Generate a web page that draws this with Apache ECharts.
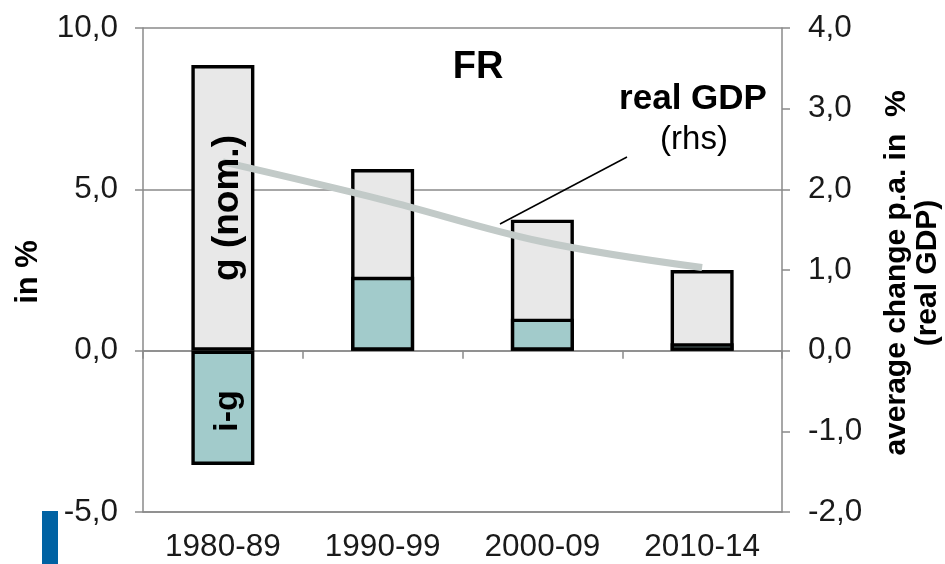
<!DOCTYPE html>
<html>
<head>
<meta charset="utf-8">
<script src="https://cdn.jsdelivr.net/npm/echarts@6/dist/echarts.min.js"></script>
<style>
html,body{margin:0;padding:0;background:#fff;}
#chart{width:945px;height:564px;}
</style>
</head>
<body>
<div id="chart"></div>
<script>
const categories = ['1980-89', '1990-99', '2000-09', '2010-14'];
const gNominal = [8.85, 5.63, 4.06, 2.5];
const iMinusG = [-3.54, 2.29, 0.99, 0.23];
const realGDP = [2.34, 1.87, 1.35, 1.03];
const leftTicks = { min: -5, max: 10, interval: 5 };
const rightTicks = { min: -2, max: 4, interval: 1 };

const FONT = "'Liberation Sans', Arial, sans-serif";
const GRAY = '#8a8a8a';
const fmt = v => v.toFixed(1).replace('.', ',');

const chart = echarts.init(document.getElementById('chart'), null, { renderer: 'canvas' });

chart.setOption({
  animation: false,
  backgroundColor: '#fff',
  grid: { left: 143, right: 163, top: 28, bottom: 52, containLabel: false },
  xAxis: [
    {
      type: 'category', data: categories, position: 'bottom',
      axisLine: { show: true, onZero: false, lineStyle: { color: GRAY, width: 1.5 } },
      axisTick: { show: false },
      axisLabel: { fontFamily: FONT, fontSize: 31.5, color: '#1a1a1a', margin: 19 },
      splitLine: { show: false }
    },
    {
      type: 'category', data: categories, position: 'top',
      axisLine: { show: true, onZero: true, lineStyle: { color: GRAY, width: 1.5 } },
      axisTick: { show: true, inside: true, length: 8, lineStyle: { color: GRAY, width: 1.5 } },
      axisLabel: { show: false },
      splitLine: { show: false }
    }
  ],
  yAxis: [
    {
      type: 'value', min: leftTicks.min, max: leftTicks.max, interval: leftTicks.interval, position: 'left',
      axisLine: { show: true, lineStyle: { color: GRAY, width: 1.5 } },
      axisTick: { show: true, length: 8, lineStyle: { color: GRAY, width: 1.5 } },
      axisLabel: { fontFamily: FONT, fontSize: 31.5, color: '#1a1a1a', margin: 25, formatter: fmt },
      splitLine: { show: true, lineStyle: { color: GRAY, width: 1.5 } }
    },
    {
      type: 'value', min: rightTicks.min, max: rightTicks.max, interval: rightTicks.interval, position: 'right',
      axisLine: { show: true, lineStyle: { color: GRAY, width: 1.5 } },
      axisTick: { show: true, length: 8, lineStyle: { color: GRAY, width: 1.5 } },
      axisLabel: { fontFamily: FONT, fontSize: 31.5, color: '#1a1a1a', margin: 26, formatter: fmt },
      splitLine: { show: false }
    }
  ],
  series: [
    {
      name: 'g (nom.)', type: 'bar', data: gNominal, xAxisIndex: 0, yAxisIndex: 0,
      barWidth: 63, barGap: '-100%', z: 2,
      itemStyle: { color: '#e8e8e8', borderColor: '#000', borderWidth: 3.4 }
    },
    {
      name: 'i-g', type: 'bar', data: iMinusG, xAxisIndex: 0, yAxisIndex: 0,
      barWidth: 63, barGap: '-100%', z: 3,
      itemStyle: { color: '#a2cbcb', borderColor: '#000', borderWidth: 3.4 }
    },
    {
      name: 'real GDP', type: 'line', data: realGDP, xAxisIndex: 0, yAxisIndex: 1,
      smooth: 0.35, showSymbol: false, symbol: 'none', z: 4,
      lineStyle: { color: '#c2cac8', width: 7 }
    }
  ],
  graphic: [
    { type: 'text', x: 478, y: 68, z: 10, style: { text: 'FR', font: "bold 38px " + FONT, fill: '#000', align: 'center', verticalAlign: 'middle' } },
    { type: 'text', x: 693, y: 99, z: 10, style: { text: 'real GDP', font: "bold 35px " + FONT, fill: '#000', align: 'center', verticalAlign: 'middle' } },
    { type: 'text', x: 694, y: 140, z: 10, style: { text: '(rhs)', font: "33px " + FONT, fill: '#000', align: 'center', verticalAlign: 'middle' } },
    { type: 'line', z: 10, shape: { x1: 500, y1: 224, x2: 627, y2: 157 }, style: { stroke: '#000', lineWidth: 1.5 } },
    { type: 'text', x: 228, y: 208, rotation: Math.PI / 2, z: 10, style: { text: 'g (nom.)', font: "bold 37px " + FONT, fill: '#000', align: 'center', verticalAlign: 'middle' } },
    { type: 'text', x: 228, y: 411, rotation: Math.PI / 2, z: 10, style: { text: 'i-g', font: "bold 34px " + FONT, fill: '#000', align: 'center', verticalAlign: 'middle' } },
    { type: 'text', x: 28, y: 272, rotation: Math.PI / 2, z: 10, style: { text: 'in %', font: "bold 31px " + FONT, fill: '#000', align: 'center', verticalAlign: 'middle' } },
    { type: 'text', x: 912, y: 273, rotation: Math.PI / 2, z: 10, style: { text: 'average change p.a. in  %\n(real GDP)', font: "bold 30px " + FONT, lineHeight: 31, fill: '#000', align: 'center', verticalAlign: 'middle' } },
    { type: 'rect', z: 10, shape: { x: 42, y: 511, width: 16, height: 53 }, style: { fill: '#0062a3' } }
  ]
});
</script>
</body>
</html>
